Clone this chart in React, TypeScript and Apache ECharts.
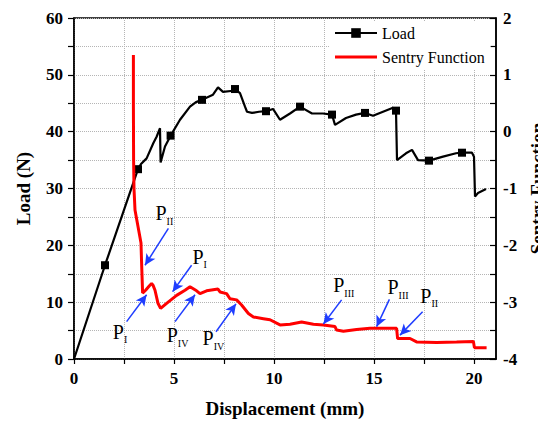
import React, { useEffect, useRef } from "react";
import * as echarts from "echarts";

// Load curve (left axis, N) vs displacement (mm)
const loadX = [0, 1.55, 3.2, 3.35, 3.63, 3.97, 4.13, 4.3, 4.33, 4.55, 4.83, 5.3, 5.8, 6.1, 6.4, 6.95, 7.2, 7.45, 7.95, 8.05, 8.3, 8.55, 8.65, 8.9, 9.25, 9.6, 9.95, 10.3, 10.8, 11.3, 11.9, 12.45, 12.9, 13.05, 13.6, 14.1, 14.55, 14.95, 15.45, 15.95, 16.1, 16.15, 16.6, 16.9, 17.2, 17.75, 18.45, 19.1, 19.4, 19.9, 20.0, 20.05, 20.2, 20.6];
const loadY = [0, 16.5, 33.4, 34.3, 35.3, 38.0, 39.1, 40.6, 34.6, 37.4, 39.3, 42.1, 44.4, 45.2, 45.6, 46.5, 47.8, 47.0, 47.2, 47.5, 46.8, 44.4, 43.5, 43.3, 43.5, 43.6, 44.0, 42.1, 43.2, 44.4, 43.2, 43.2, 43.0, 41.2, 42.4, 43.0, 43.3, 42.8, 43.5, 44.2, 43.7, 35.0, 36.2, 36.8, 35.0, 34.9, 35.6, 36.2, 36.3, 36.3, 35.6, 28.6, 29.2, 29.9];
// points of the load curve that carry a square marker
const loadMarkerX = [1.55, 3.2, 4.83, 6.4, 8.05, 9.6, 11.3, 12.9, 14.55, 16.1, 17.75, 19.4];

// Sentry function (right axis)
const sentryX = [2.97, 2.97, 2.98, 3.0, 3.05, 3.2, 3.35, 3.38, 3.43, 3.58, 3.75, 3.88, 3.95, 4.05, 4.2, 4.33, 4.63, 5.13, 5.55, 5.8, 6.13, 6.3, 6.63, 7.2, 7.3, 7.63, 7.8, 8.13, 8.38, 8.72, 8.97, 9.47, 9.8, 10.3, 10.8, 11.38, 11.97, 12.47, 13.05, 13.13, 13.47, 14.13, 14.8, 16.13, 16.18, 16.8, 17.13, 18.13, 19.13, 19.97, 20.02, 20.63];
const sentryY = [1.35, 0.5, -0.5, -1.0, -1.38, -1.67, -1.96, -2.31, -2.84, -2.79, -2.72, -2.67, -2.7, -2.79, -3.02, -3.11, -3.02, -2.88, -2.79, -2.73, -2.8, -2.85, -2.8, -2.77, -2.82, -2.85, -2.94, -2.96, -3.05, -3.2, -3.26, -3.29, -3.31, -3.4, -3.39, -3.35, -3.39, -3.4, -3.43, -3.49, -3.51, -3.48, -3.46, -3.46, -3.64, -3.64, -3.7, -3.71, -3.7, -3.69, -3.8, -3.8];

// Annotations (in left-axis units)
const annSub = ["II", "I", "I", "IV", "IV", "III", "III", "II"];
const annLabelX = [4.52, 6.28, 2.3, 5.18, 6.97, 13.49, 16.2, 17.76];
const annLabelY = [25.65, 18.0, 4.8, 4.14, 3.64, 12.94, 12.59, 11.1];
const arrowFromX = [4.72, 5.88, 2.63, 5.05, 7.1, 13.38, 15.77, 17.43];
const arrowFromY = [23.0, 16.5, 6.57, 6.57, 4.8, 10.4, 10.5, 8.33];
const arrowToX = [3.55, 4.93, 3.63, 6.05, 8.1, 12.47, 15.13, 16.3];
const arrowToY = [16.5, 11.85, 11.3, 11.3, 9.7, 6.16, 5.69, 4.2];

const xTicks = [0, 2.5, 5, 7.5, 10, 12.5, 15, 17.5, 20];
const xLabels = [0, 5, 10, 15, 20];
const yLeftTicks = [0, 5, 10, 15, 20, 25, 30, 35, 40, 45, 50, 55, 60];
const yRightTicks = [-4, -3.5, -3, -2.5, -2, -1.5, -1, -0.5, 0, 0.5, 1, 1.5, 2];

const FONT = '"Liberation Serif", "Times New Roman", serif';
const LINE_ICON = "path://M0,0 L0.01,0 M0,4.5 L42,4.5 L42,7.5 L0,7.5 Z M0,12 L0.01,12";

export default function App() {
  const ref = useRef<HTMLDivElement>(null);
  useEffect(() => {
    if (!ref.current) return;
    const chart = echarts.init(ref.current, undefined, { renderer: "svg" });
    const axisLabelStyle = { color: "#000", fontFamily: FONT, fontWeight: "bold", fontSize: 17 };
    const nameStyle = { color: "#000", fontFamily: FONT, fontWeight: "bold", fontSize: 19 };
    const axisLine = { show: true, onZero: false, lineStyle: { color: "#000", width: 1.5 } };
    const loadData = loadX.map((x, i) => ({
      value: [x, loadY[i]],
      symbol: loadMarkerX.indexOf(x) >= 0 ? "rect" : "none",
    }));
    const sentryData = sentryX.map((x, i) => [x, sentryY[i]]);
    chart.setOption({
      animation: false,
      backgroundColor: "#fff",
      grid: {
        left: 74, right: 42, top: 18, bottom: 62,
        show: true, borderColor: "#000", borderWidth: 1.5, backgroundColor: "transparent",
        containLabel: false, outerBoundsMode: "none",
      },
      legend: {
        orient: "vertical",
        left: 330, top: 21,
        padding: [4, 6, 4, 4],
        backgroundColor: "#fff",
        itemWidth: 42, itemHeight: 12, itemGap: 8,
        textStyle: { color: "#000", fontFamily: FONT, fontSize: 16, lineHeight: 16 },
        data: [
          { name: "Load" },
          { name: "Sentry Function", icon: LINE_ICON, itemStyle: { color: "#ff0000" } },
        ],
      },
      xAxis: {
        type: "value", min: 0, max: 21.1, interval: 5,
        name: "Displacement (mm)", nameLocation: "middle", nameGap: 40, nameTextStyle: nameStyle,
        axisLine,
        axisTick: { show: true, inside: false, length: 5, customValues: xTicks, lineStyle: { color: "#000", width: 1.2 } },
        axisLabel: { ...axisLabelStyle, margin: 11, customValues: xLabels, formatter: (v: number) => (v % 5 === 0 ? String(v) : "") },
        splitLine: { show: true, lineStyle: { type: "dotted", color: "#b5b5b5", width: 1 } },
      },
      yAxis: [
        {
          type: "value", min: 0, max: 60, interval: 10, position: "left",
          name: "Load (N)", nameLocation: "middle", nameGap: 41, nameTextStyle: nameStyle,
          axisLine,
          axisTick: { show: true, inside: false, length: 6, customValues: yLeftTicks, lineStyle: { color: "#000", width: 1.2 } },
          axisLabel: { ...axisLabelStyle, margin: 11 },
          splitLine: { show: true, lineStyle: { type: "dotted", color: "#b5b5b5", width: 1 } },
        },
        {
          type: "value", min: -4, max: 2, interval: 1, position: "right",
          name: "Sentry Function", nameLocation: "middle", nameGap: 28, nameTextStyle: nameStyle,
          axisLine,
          axisTick: { show: true, inside: true, length: 6, customValues: yRightTicks, lineStyle: { color: "#000", width: 1.2 } },
          axisLabel: { ...axisLabelStyle, margin: 7 },
          splitLine: { show: false },
        },
      ],
      series: [
        {
          name: "Load", type: "line", yAxisIndex: 0,
          data: loadData,
          symbol: "rect", symbolSize: 8, showSymbol: true, showAllSymbol: true,
          lineStyle: { color: "#000", width: 2.2 },
          itemStyle: { color: "#000" },
          z: 3,
        },
        {
          name: "Sentry Function", type: "line", yAxisIndex: 1,
          data: sentryData,
          symbol: "none",
          lineStyle: { color: "#ff0000", width: 3 },
          itemStyle: { color: "#ff0000" },
          z: 4,
        },
        {
          name: "annotations", type: "line", yAxisIndex: 0,
          data: [],
          z: 5,
          markLine: {
            silent: true, animation: false,
            symbol: ["none", "arrow"], symbolSize: [8, 11],
            label: { show: false },
            lineStyle: { color: "#1f3dff", width: 1.5, type: "solid" },
            data: arrowFromX.map((x, i) => [
              { coord: [x, arrowFromY[i]] },
              { coord: [arrowToX[i], arrowToY[i]] },
            ]),
          },
          markPoint: {
            silent: true, animation: false,
            symbol: "rect", symbolSize: 1,
            itemStyle: { color: "rgba(0,0,0,0)" },
            data: annSub.map((s, i) => ({
              coord: [annLabelX[i], annLabelY[i]],
              label: {
                show: true, position: "inside",
                formatter: "{p|P}{s|" + s + "}",
                rich: {
                  p: { fontFamily: FONT, fontSize: 20, lineHeight: 26, color: "#000" },
                  s: { fontFamily: FONT, fontSize: 10, lineHeight: 9, verticalAlign: "bottom", color: "#000" },
                },
              },
            })),
          },
        },
      ],
    });
    return () => chart.dispose();
  }, []);
  return <div ref={ref} style={{ position: "fixed", left: 0, top: 0, width: 538, height: 421 }} />;
}
